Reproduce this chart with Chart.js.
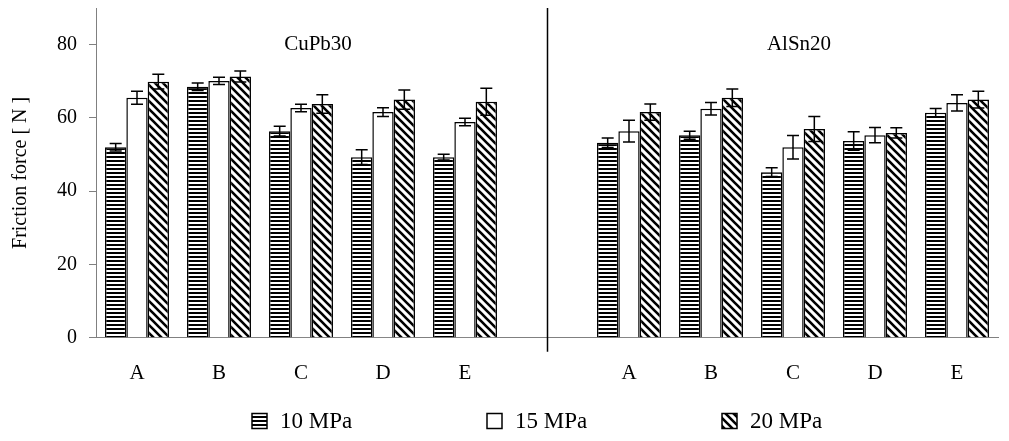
<!DOCTYPE html>
<html>
<head>
<meta charset="utf-8">
<script src="https://cdn.jsdelivr.net/npm/chart.js@4"></script>
<style>
  html, body { margin: 0; padding: 0; background: #fff; }
  #wrap { width: 1009px; height: 441px; position: relative; }
</style>
</head>
<body>
<div id="wrap"><canvas id="frictionChart"></canvas></div>
<script>
// Categories: CuPb30 (A-E), empty gap, AlSn20 (A-E)
const categories = ['A', 'B', 'C', 'D', 'E', '', 'A', 'B', 'C', 'D', 'E'];
const groupTitles = ['CuPb30', 'AlSn20'];
const seriesNames = ['10 MPa', '15 MPa', '20 MPa'];

const values10 = [52, 68.5, 56.4, 49.3, 49.3, null, 53.2, 55.3, 45.2, 53.7, 61.4];
const values15 = [65.5, 70.1, 62.7, 61.6, 58.9, null, 56.4, 62.5, 52, 55.3, 64.1];
const values20 = [69.9, 71.3, 63.8, 65, 64.4, null, 61.6, 65.5, 57, 55.9, 65];

const errors10 = [1, 1, 1.3, 2, 0.8, null, 1.3, 1.1, 1.2, 2.5, 1.2];
const errors15 = [1.8, 1, 1, 1.2, 1, null, 3, 1.7, 3.2, 2.1, 2.2];
const errors20 = [2, 1.5, 2.5, 2.6, 3.7, null, 2.2, 2.4, 3.4, 1.4, 2.3];

const yTicks = [0, 20, 40, 60, 80];

const FONT = "'Liberation Serif', 'Times New Roman', 'DejaVu Serif', serif";

// Hatch patterns
function stripePattern() {
    const c = document.createElement('canvas');
    c.width = 8; c.height = 4;
    const x = c.getContext('2d');
    x.fillStyle = '#fff';
    x.fillRect(0, 0, 8, 4);
    x.fillStyle = '#000';
    x.fillRect(0, 0, 8, 2);
    return x.createPattern(c, 'repeat');
}

function diagPattern() {
    const s = 8;
    const c = document.createElement('canvas');
    c.width = s; c.height = s;
    const x = c.getContext('2d');
    x.fillStyle = '#fff';
    x.fillRect(0, 0, s, s);
    x.strokeStyle = '#000';
    x.lineWidth = 2.6;
    x.beginPath();
    x.moveTo(-s, -s); x.lineTo(2 * s, 2 * s);
    x.moveTo(0, -s); x.lineTo(2 * s, s);
    x.moveTo(-s, 0); x.lineTo(s, 2 * s);
    x.stroke();
    return x.createPattern(c, 'repeat');
}

const errorsByDataset = [errors10, errors15, errors20];

// Error bars, separator, group titles and the legend row
const extrasPlugin = {
    id: 'extras',
    afterDatasetsDraw(chart) {
        const ctx = chart.ctx;
        const y = chart.scales.y;
        const x = chart.scales.x;
        const area = chart.chartArea;
        ctx.save();
        ctx.strokeStyle = '#000';
        ctx.lineWidth = 1.5;
        chart.data.datasets.forEach((ds, di) => {
            const meta = chart.getDatasetMeta(di);
            meta.data.forEach((bar, i) => {
                const v = ds.data[i];
                const e = errorsByDataset[di][i];
                if (v == null || e == null) return;
                const yt = y.getPixelForValue(v + e);
                const yb = y.getPixelForValue(v - e);
                const cap = 6;
                ctx.beginPath();
                ctx.moveTo(bar.x, yt); ctx.lineTo(bar.x, yb);
                ctx.moveTo(bar.x - cap, yt); ctx.lineTo(bar.x + cap, yt);
                ctx.moveTo(bar.x - cap, yb); ctx.lineTo(bar.x + cap, yb);
                ctx.stroke();
            });
        });
        // separator between the two materials
        const sx = Math.round(x.getPixelForValue(5)) + 0.5;
        ctx.beginPath();
        ctx.moveTo(sx, area.top);
        ctx.lineTo(sx, area.bottom + 14);
        ctx.stroke();
        // group titles
        ctx.fillStyle = '#000';
        ctx.font = '21px ' + FONT;
        ctx.textAlign = 'center';
        ctx.textBaseline = 'middle';
        ctx.fillText(groupTitles[0], x.getPixelForValue(2) + 17, y.getPixelForValue(80));
        ctx.fillText(groupTitles[1], x.getPixelForValue(8) + 6, y.getPixelForValue(80));

        // legend
        const spacing = 235;
        const box = 15;
        const ly = chart.height - 20;
        let lx = 252;
        ctx.font = '23px ' + FONT;
        ctx.textAlign = 'left';
        chart.data.datasets.forEach((ds) => {
            ctx.fillStyle = ds.backgroundColor;
            ctx.fillRect(lx, ly - box / 2, box, box);
            ctx.lineWidth = 1.5;
            ctx.strokeRect(lx, ly - box / 2, box, box);
            ctx.fillStyle = '#000';
            ctx.fillText(ds.label, lx + box + 13, ly + 1);
            lx += spacing;
        });
        ctx.restore();
    }
};

const barBase = {
    borderColor: '#000',
    borderWidth: 1.5,
    borderSkipped: 'bottom',
    barPercentage: 1.0,
    categoryPercentage: 0.78
};

new Chart(document.getElementById('frictionChart'), {
    type: 'bar',
    data: {
        labels: categories,
        datasets: [
            Object.assign({ label: seriesNames[0], data: values10, backgroundColor: stripePattern() }, barBase),
            Object.assign({ label: seriesNames[1], data: values15, backgroundColor: '#fff' }, barBase),
            Object.assign({ label: seriesNames[2], data: values20, backgroundColor: diagPattern() }, barBase)
        ]
    },
    options: {
        responsive: true,
        maintainAspectRatio: false,
        animation: false,
        layout: { padding: { top: 8, right: 11, left: 9, bottom: 40 } },
        plugins: {
            legend: { display: false },
            tooltip: { enabled: false }
        },
        scales: {
            x: {
                grid: { display: false },
                border: { color: '#808080', width: 1 },
                ticks: { color: '#000', font: { family: FONT, size: 21 }, padding: 15 }
            },
            y: {
                min: 0,
                max: 90,
                afterBuildTicks: (scale) => {
                    scale.ticks = yTicks.map(v => ({ value: v }));
                },
                afterFit: (scale) => { scale.paddingTop = 0; },
                grid: { drawOnChartArea: false, tickLength: 7, color: '#808080' },
                border: { color: '#808080', width: 1 },
                ticks: { color: '#000', font: { family: FONT, size: 20 }, padding: 12 },
                title: {
                    display: true,
                    text: 'Friction force [ N ]',
                    color: '#000',
                    font: { family: FONT, size: 20 },
                    padding: { top: 0, bottom: 12 }
                }
            }
        }
    },
    plugins: [extrasPlugin]
});
</script>
</body>
</html>
